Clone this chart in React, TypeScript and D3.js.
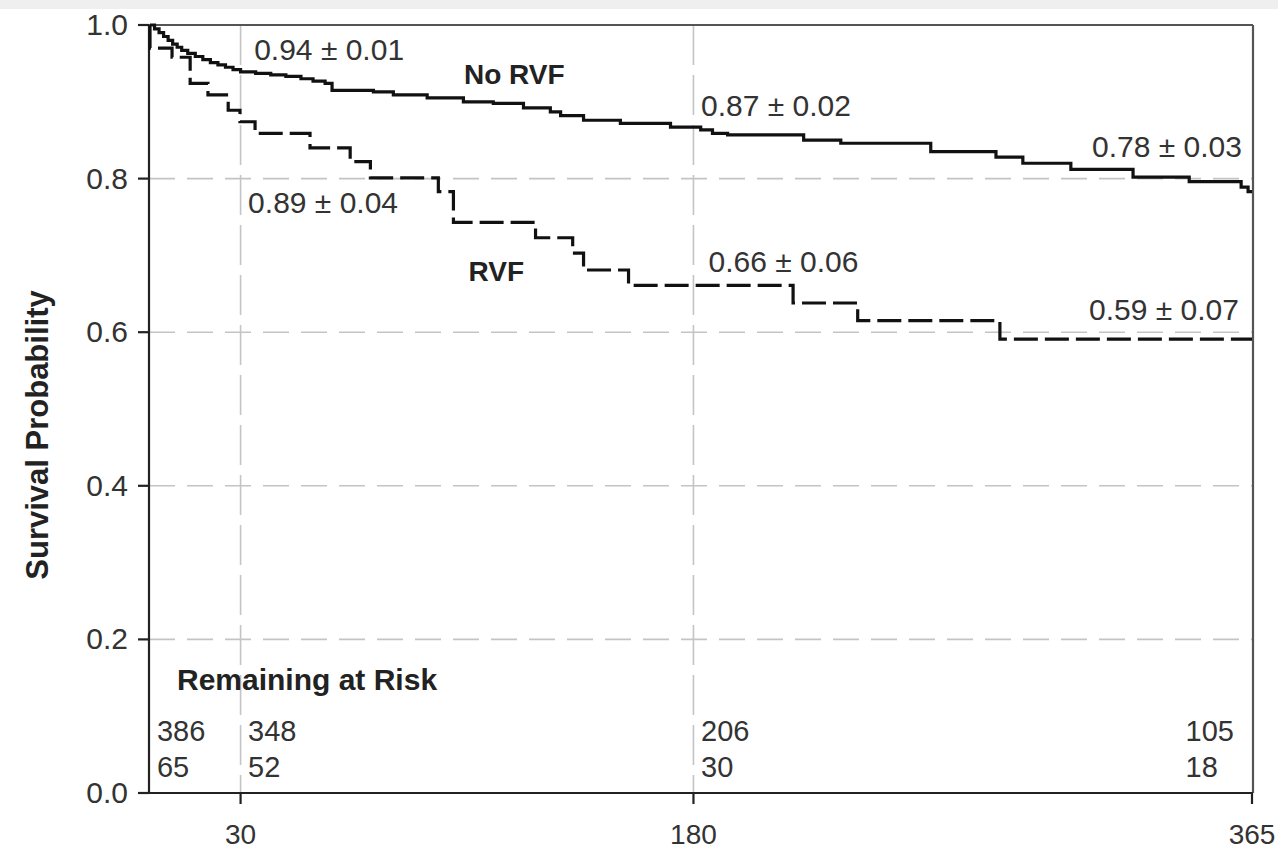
import React from "react";
import * as d3 from "d3";

// ---- Data ----
const noRvfDays = [0, 1.5, 3, 4.5, 6, 7.5, 9, 10.5, 12.5, 15, 17.5, 20, 22.5, 25, 27.5, 30, 35, 40, 45, 50, 54, 58, 60.3, 74, 80.6, 91.8, 103.8, 113.7, 123.7, 132.6, 136, 143.6, 155.8, 172.4, 182.4, 186.3, 191.3, 216.5, 228.8, 258.6, 280.2, 289.1, 305, 325.6, 344.2, 361.4, 363.7, 365];
const noRvfSurv = [1.0, 0.995, 0.99, 0.985, 0.98, 0.975, 0.971, 0.967, 0.963, 0.959, 0.955, 0.951, 0.948, 0.945, 0.942, 0.939, 0.937, 0.935, 0.933, 0.93, 0.927, 0.924, 0.915, 0.913, 0.909, 0.905, 0.9, 0.898, 0.892, 0.887, 0.882, 0.876, 0.872, 0.867, 0.8635, 0.859, 0.857, 0.85, 0.846, 0.835, 0.828, 0.82, 0.812, 0.802, 0.796, 0.789, 0.783, 0.783];

const rvfDays = [0, 0, 7.3, 13.3, 19.2, 25.9, 29.8, 34.8, 53, 66.3, 73, 95.5, 100.5, 127.7, 140, 143.6, 158.5, 213, 234.4, 281.5, 365];
const rvfSurv = [1.0, 0.97, 0.958, 0.924, 0.909, 0.889, 0.874, 0.859, 0.84, 0.822, 0.801, 0.783, 0.743, 0.723, 0.703, 0.681, 0.661, 0.638, 0.615, 0.591, 0.591];

const xTicks = [30, 180, 365];
const yTicks = [0, 0.2, 0.4, 0.6, 0.8, 1.0];
const yGrid = [0.2, 0.4, 0.6, 0.8];
const xGrid = [30, 180];

// annotations: text, day, survival at baseline
const estLabels = [
  { text: "0.94 ± 0.01", day: 34.5, y: 0.955 },
  { text: "0.89 ± 0.04", day: 32.5, y: 0.755 },
  { text: "0.87 ± 0.02", day: 182.5, y: 0.882 },
  { text: "0.66 ± 0.06", day: 185, y: 0.678 },
  { text: "0.78 ± 0.03", day: 312, y: 0.828 },
  { text: "0.59 ± 0.07", day: 311, y: 0.616 },
];
const groupLabels = [
  { text: "No RVF", day: 104, y: 0.923 },
  { text: "RVF", day: 105.5, y: 0.667 },
];

const riskDays = [2.3, 32.5, 182.5, 343];
const riskNoRvf = ["386", "348", "206", "105"];
const riskRvf = ["65", "52", "30", "18"];

const W = 1278;
const H = 851;
const FONT = "'Liberation Sans', Arial, sans-serif";

export default function App() {
  const x = d3.scaleLinear().domain([0, 365]).range([150, 1252]);
  const y = d3.scaleLinear().domain([0, 1]).range([793, 25]);

  const line = d3
    .line<[number, number]>()
    .x((d) => x(d[0]))
    .y((d) => y(d[1]))
    .curve(d3.curveStepAfter);

  const noRvfPts = noRvfDays.map((d, i) => [d, noRvfSurv[i]] as [number, number]);
  const rvfPts = rvfDays.map((d, i) => [d, rvfSurv[i]] as [number, number]);

  const x0 = x(0) - 1;
  const x1 = x(365) + 1;

  return (
    <svg
      width={W}
      height={H}
      viewBox={`0 0 ${W} ${H}`}
      style={{ position: "absolute", left: 0, top: 0, background: "#fff" }}
    >
      <rect x={0} y={0} width={W} height={H} fill="#fff" />
      <rect x={0} y={0} width={W} height={9} fill="#efefef" />

      {/* grid */}
      {yGrid.map((v) => (
        <line
          key={"yg" + v}
          x1={x0}
          x2={x1}
          y1={y(v)}
          y2={y(v)}
          stroke="#c4c4c4"
          strokeWidth={1.6}
          strokeDasharray="26,12"
        />
      ))}
      {xGrid.map((v) => (
        <line
          key={"xg" + v}
          x1={x(v)}
          x2={x(v)}
          y1={y(1)}
          y2={y(0)}
          stroke="#c4c4c4"
          strokeWidth={1.6}
          strokeDasharray="40,10"
        />
      ))}

      {/* frame */}
      <line x1={x0 - 11} x2={x1} y1={y(1)} y2={y(1)} stroke="#555" strokeWidth={2.2} />
      <line x1={x1} x2={x1} y1={y(1)} y2={y(0)} stroke="#555" strokeWidth={2.2} />
      <line x1={x0} x2={x0} y1={y(1)} y2={y(0)} stroke="#222" strokeWidth={2.2} />
      <line x1={x0 - 11} x2={x1} y1={y(0)} y2={y(0)} stroke="#222" strokeWidth={2.2} />

      {/* y ticks */}
      {yTicks.map((v) => (
        <g key={"yt" + v}>
          <line x1={x0 - 11} x2={x0} y1={y(v)} y2={y(v)} stroke="#222" strokeWidth={2.2} />
          <text
            x={128}
            y={y(v) + 10}
            textAnchor="end"
            fontFamily={FONT}
            fontSize={30}
            fill="#333"
          >
            {v.toFixed(1)}
          </text>
        </g>
      ))}

      {/* x ticks */}
      {xTicks.map((v) => (
        <g key={"xt" + v}>
          <line x1={x(v)} x2={x(v)} y1={y(0)} y2={y(0) + 11} stroke="#222" strokeWidth={2.2} />
          <text
            x={x(v)}
            y={844}
            textAnchor="middle"
            fontFamily={FONT}
            fontSize={28}
            fill="#333"
          >
            {v}
          </text>
        </g>
      ))}

      {/* y axis label */}
      <text
        transform={`translate(48, 435) rotate(-90)`}
        textAnchor="middle"
        fontFamily={FONT}
        fontWeight="bold"
        fontSize={31}
        fill="#222"
      >
        Survival Probability
      </text>

      {/* curves */}
      <path d={line(noRvfPts) || ""} fill="none" stroke="#111" strokeWidth={3.2} />
      <path
        d={line(rvfPts) || ""}
        fill="none"
        stroke="#111"
        strokeWidth={3.2}
        strokeDasharray="24,7"
      />

      {/* estimate labels */}
      {estLabels.map((l) => (
        <text
          key={l.text + l.day}
          x={x(l.day)}
          y={y(l.y)}
          fontFamily={FONT}
          fontSize={30}
          fill="#333"
        >
          {l.text}
        </text>
      ))}
      {groupLabels.map((l) => (
        <text
          key={l.text}
          x={x(l.day)}
          y={y(l.y)}
          fontFamily={FONT}
          fontWeight="bold"
          fontSize={28}
          fill="#222"
        >
          {l.text}
        </text>
      ))}

      {/* remaining at risk */}
      <text x={177} y={690} fontFamily={FONT} fontWeight="bold" fontSize={30} fill="#222">
        Remaining at Risk
      </text>
      {riskDays.map((d, i) => (
        <g key={"r" + i}>
          <text x={x(d)} y={741} fontFamily={FONT} fontSize={29} fill="#333">
            {riskNoRvf[i]}
          </text>
          <text x={x(d)} y={777} fontFamily={FONT} fontSize={29} fill="#333">
            {riskRvf[i]}
          </text>
        </g>
      ))}
    </svg>
  );
}
